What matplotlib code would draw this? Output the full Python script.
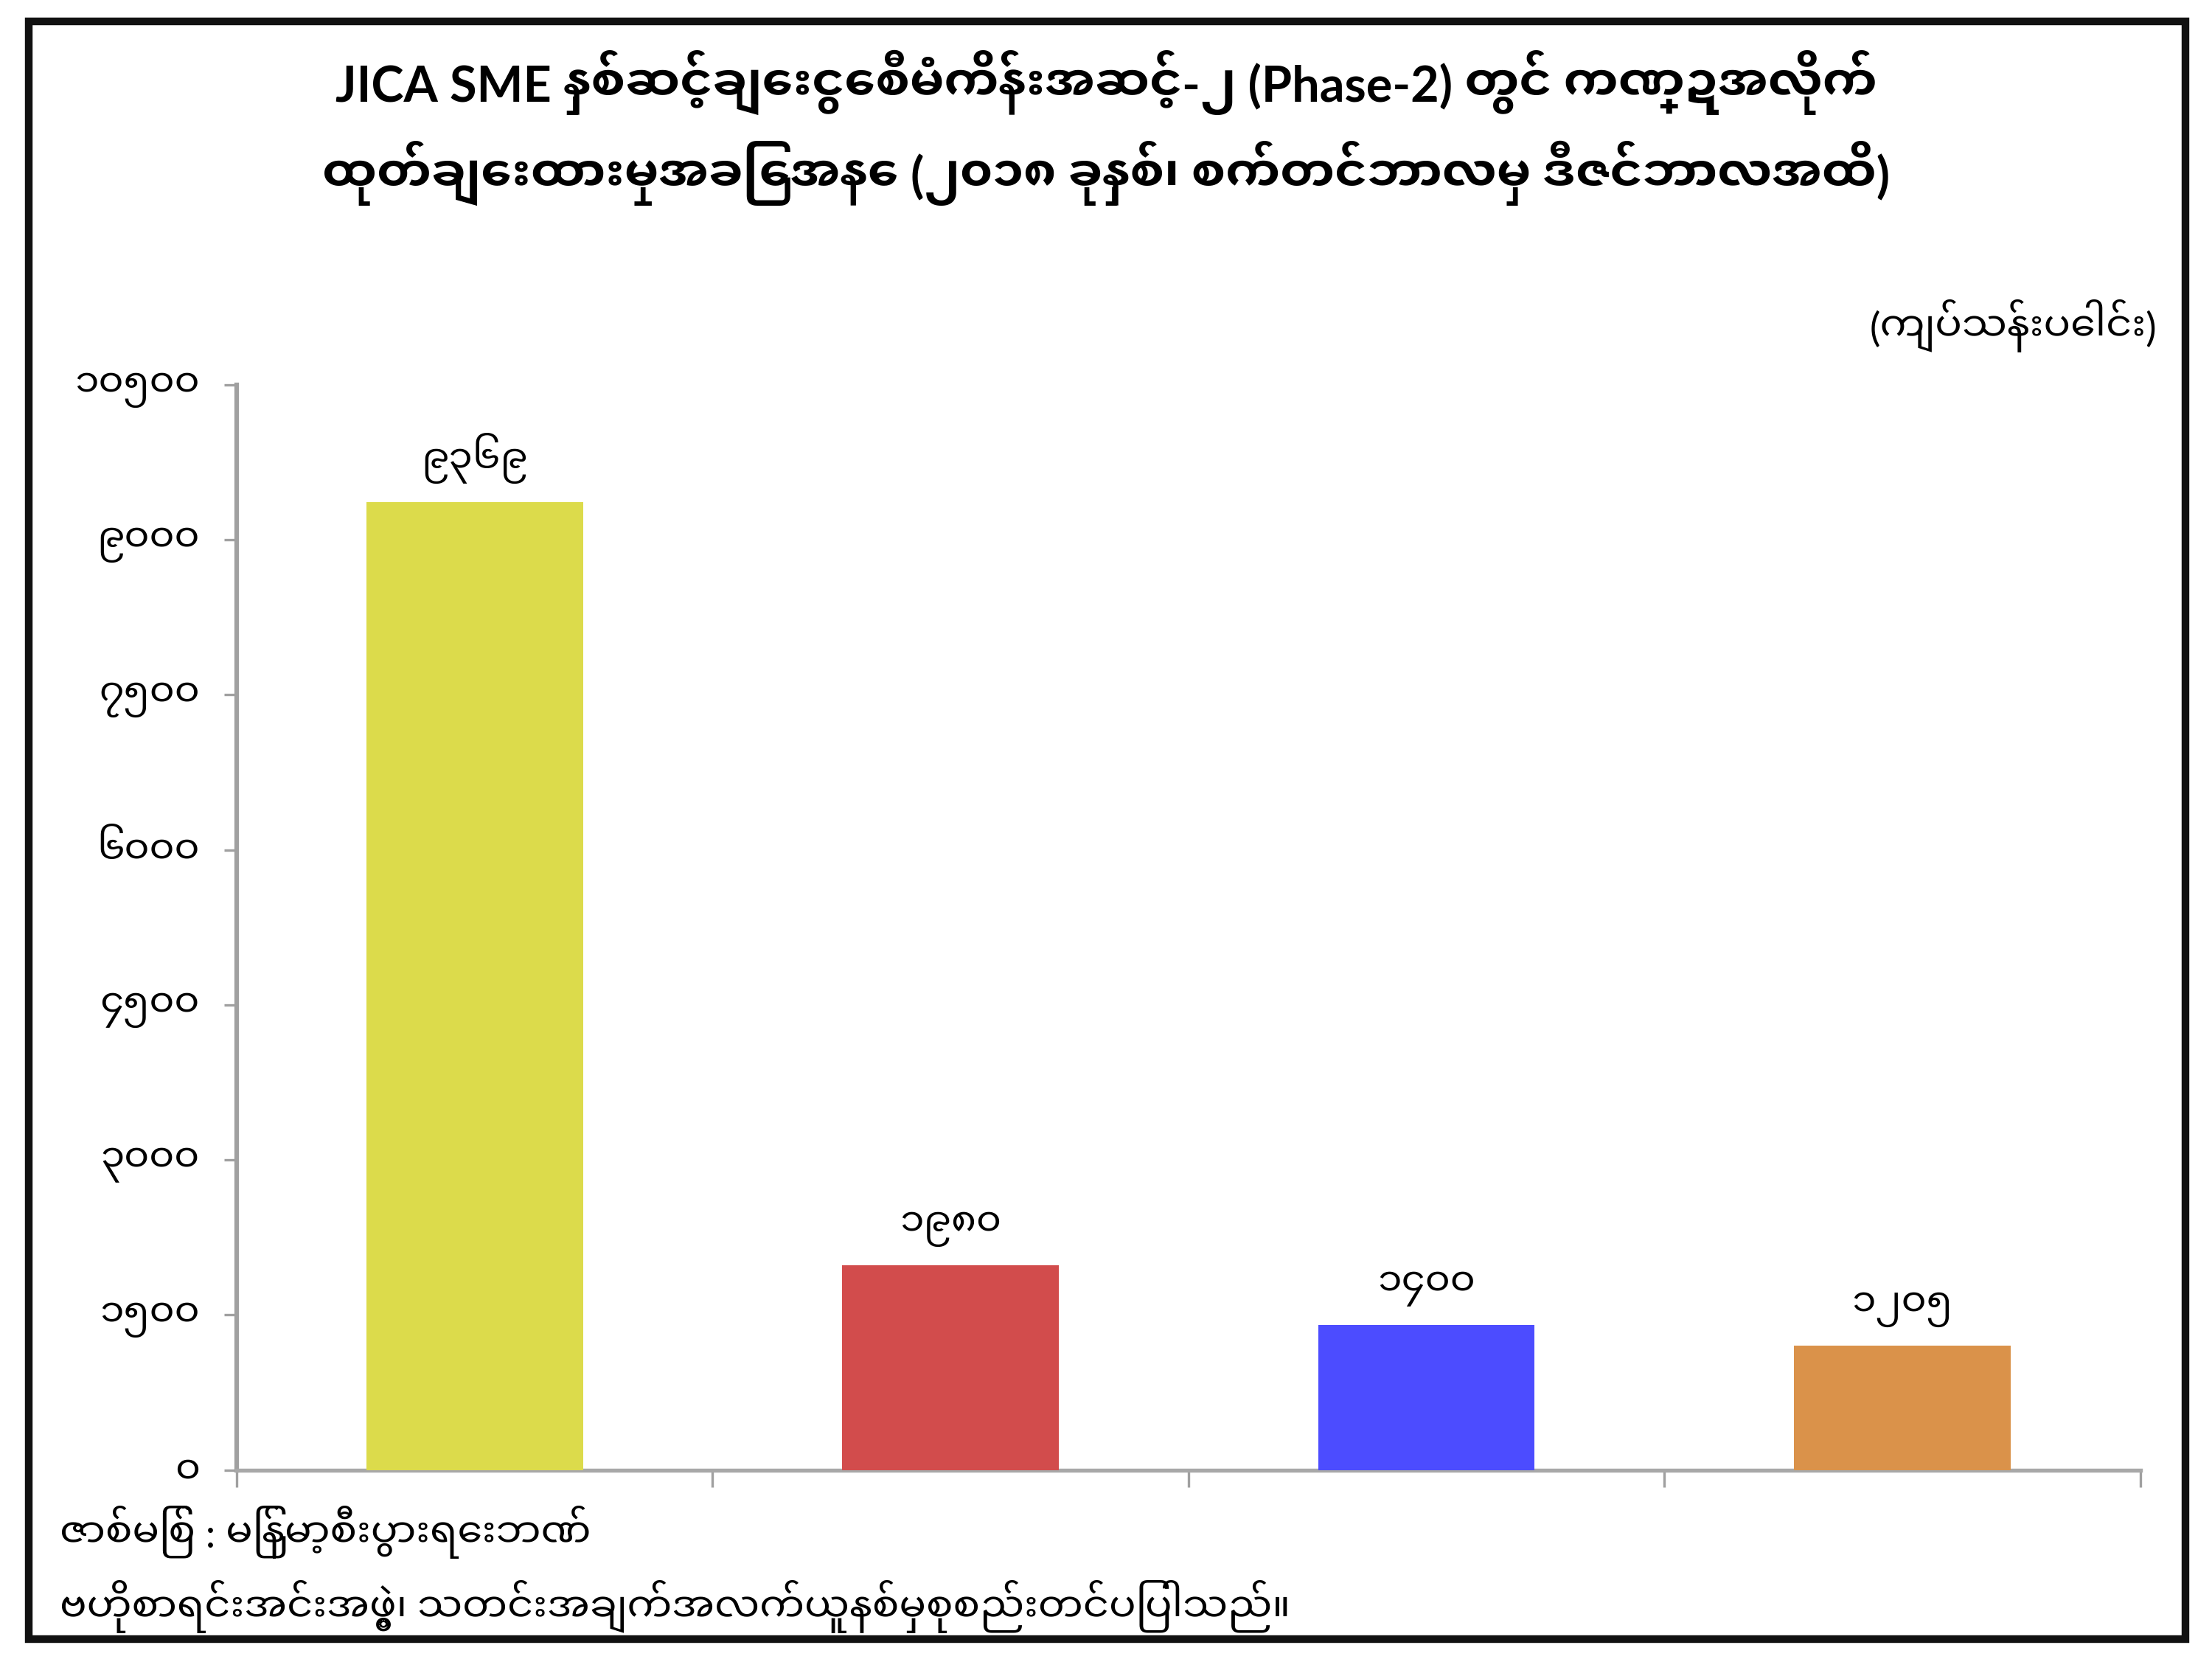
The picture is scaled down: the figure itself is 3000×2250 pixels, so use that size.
import matplotlib
matplotlib.use("Agg")
import matplotlib.pyplot as plt
from matplotlib.patches import Rectangle

# data
values = [9369, 1980, 1400, 1205]
value_labels = ["၉၃၆၉", "၁၉၈၀", "၁၄၀၀", "၁၂၀၅"]
bar_colors = ["#dcdb4b", "#d24c4c", "#4c4cff", "#da924a"]
y_ticks = [0, 1500, 3000, 4500, 6000, 7500, 9000, 10500]
y_tick_labels = ["၀", "၁၅၀၀", "၃၀၀၀", "၄၅၀၀", "၆၀၀၀", "၇၅၀၀", "၉၀၀၀", "၁၀၅၀၀"]

title = ("JICA SME နှစ်ဆင့်ချေးငွေစီမံကိန်းအဆင့်-၂ (Phase-2) တွင် ကဏ္ဍအလိုက်\n"
         "ထုတ်ချေးထားမှုအခြေအနေ (၂၀၁၈ ခုနှစ်၊ စက်တင်ဘာလမှ ဒီဇင်ဘာလအထိ)")
unit = "(ကျပ်သန်းပေါင်း)"
source = ("ဇာစ်မြစ် : မြန်မာ့စီးပွားရေးဘဏ်\n"
          "ဗဟိုစာရင်းအင်းအဖွဲ့၊ သတင်းအချက်အလက်ယူနစ်မှစုစည်းတင်ပြပါသည်။")

plt.rcParams["font.family"] = ["Lato", "Noto Sans Myanmar UI", "DejaVu Sans"]

fig = plt.figure(figsize=(10, 7.5), dpi=300)
ax = fig.add_axes([0.107, 0.114, 0.8605, 0.654])

x = range(len(values))
ax.bar(x, values, width=0.455, color=bar_colors, zorder=3)
for xi, v, lab in zip(x, values, value_labels):
    ax.annotate(lab, (xi, v), xytext=(0, 6), textcoords="offset points",
                ha="center", va="bottom", fontsize=12.5)

ax.set_xlim(-0.5, 3.5)
ax.set_ylim(0, 10500)
ax.set_yticks(y_ticks)
ax.set_yticklabels(y_tick_labels, fontsize=12.5)
ax.set_xticks([-0.5, 0.5, 1.5, 2.5, 3.5])
ax.set_xticklabels([])
ax.tick_params(axis="x", length=5.5, color="#a0a0a0", width=0.8)
ax.tick_params(axis="y", length=4, color="#a0a0a0", width=0.8, pad=8)
for s in ["top", "right"]:
    ax.spines[s].set_visible(False)
ax.spines["left"].set_color("#a0a0a0")
ax.spines["left"].set_linewidth(1.5)
ax.spines["bottom"].set_color("#a8a8a8")
ax.spines["bottom"].set_linewidth(1.3)

fig.text(0.5, 0.923, title, ha="center", va="center", fontsize=16,
         fontweight="bold", linespacing=1.5)
fig.text(0.975, 0.804, unit, ha="right", va="center", fontsize=13)
fig.text(0.027, 0.054, source, ha="left", va="center", fontsize=13,
         linespacing=1.5)

fig.patches.append(Rectangle((0.013, 0.012), 0.975, 0.975, transform=fig.transFigure,
                             fill=False, edgecolor="#111111", linewidth=2.5))

fig.savefig("out.png", dpi=300)
